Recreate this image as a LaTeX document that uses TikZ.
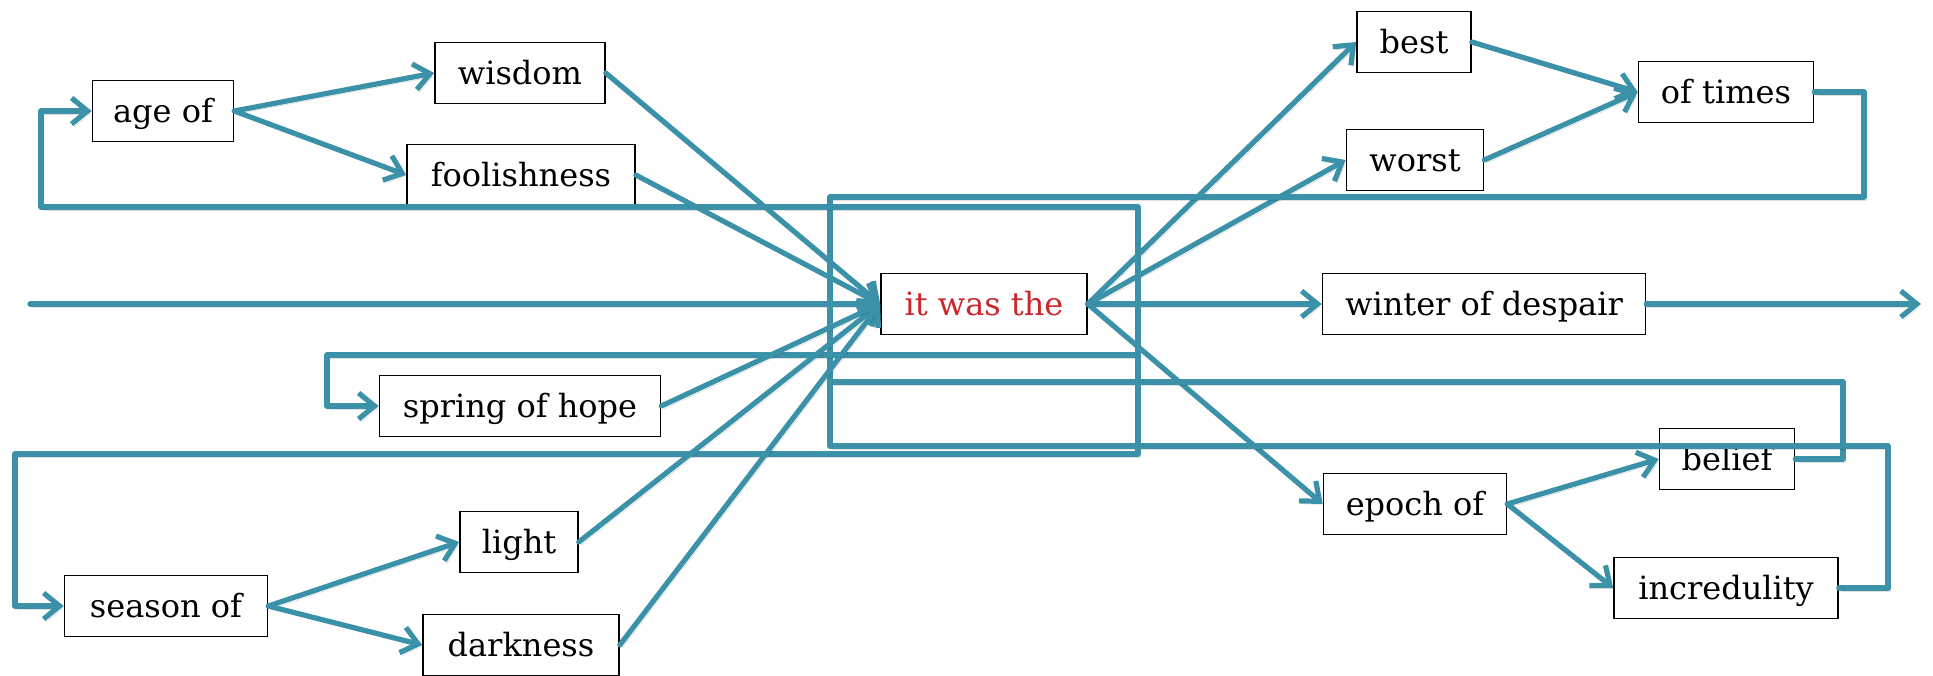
\documentclass[tikz,border=0pt]{standalone}
\usepackage{fontspec}
\setmainfont{DejaVu Serif}
\usetikzlibrary{arrows.meta}
\definecolor{flow}{RGB}{58,145,168}
\definecolor{wordred}{RGB}{200,40,45}
\begin{document}
\begin{tikzpicture}[x=0.5pt,y=-0.5pt,
  word/.style={draw=black, line width=0.8pt, fill=white, inner sep=0pt,
    minimum height=30.5pt, text height=13pt, text depth=2pt,
    font=\fontsize{16}{18}\selectfont},
  conn/.style={draw=flow, line width=2.6pt, line cap=round, line join=round,
    preaction={draw=black, opacity=0.12,
      transform canvas={shift={(1.2pt,-1.5pt)}}}},
  arr/.style={conn, -{Straight Barb[length=8pt,width=13pt]}}]
\useasboundingbox (0,0) rectangle (1933,675);

% word boxes
\node[word, minimum width=70.5pt]  (ageof)   at (163,111) {age of};
\node[word, minimum width=85pt]    (wisdom)  at (520,73)  {wisdom};
\node[word, minimum width=114pt]   (fool)    at (521,175) {foolishness};
\node[word, minimum width=57pt]    (best)    at (1414,42) {best};
\node[word, minimum width=68.5pt]  (worst)   at (1415,160) {worst};
\node[word, minimum width=87.5pt]  (oftimes) at (1726,92) {of times};
\node[word, minimum width=103pt, text=wordred] (itwas) at (984,304) {it was the};
\node[word, minimum width=161.5pt] (winter)  at (1484,304) {winter of despair};
\node[word, minimum width=140.5pt] (spring)  at (520,406) {spring of hope};
\node[word, minimum width=67.5pt]  (belief)  at (1727,459) {belief};
\node[word, minimum width=91.5pt]  (epoch)   at (1415,504) {epoch of};
\node[word, minimum width=112pt]   (incred)  at (1726,588) {incredulity};
\node[word, minimum width=101.5pt] (season)  at (166,606) {season of};
\node[word, minimum width=59pt]    (light)   at (519,542) {light};
\node[word, minimum width=98pt]    (dark)    at (521,645) {darkness};

% ends and corners of the routing lines
\coordinate (start)  at (30,304);
\coordinate (finish) at (1921,304);
\coordinate (jL) at (830,304);
\coordinate (jR) at (1138,304);
\coordinate (tR) at (1864,197);
\coordinate (bR) at (1843,382);
\coordinate (iR) at (1888,446);
\coordinate (aL) at (41,207);
\coordinate (sL) at (327,355);
\coordinate (seL) at (15,454);

% main line
\draw[arr] (start) -- (itwas.west);
\draw[arr] (itwas.east) -- (winter.west);
\draw[arr] (winter.east) -- (finish);

% branches out of "it was the"
\draw[arr] (itwas.east) -- (best.west);
\draw[arr] (itwas.east) -- (worst.west);
\draw[arr] (itwas.east) -- (epoch.west);
\draw[arr] (best.east) -- (oftimes.west);
\draw[arr] (worst.east) -- (oftimes.west);
\draw[arr] (epoch.east) -- (belief.west);
\draw[arr] (epoch.east) -- (incred.west);

% loops back into "it was the"
\draw[conn] (oftimes.east) -| (tR) -| (jL);
\draw[conn] (belief.east) -| (bR) -| (jL);
\draw[conn] (incred.east) -| (iR) -| (jL);

% loops from "it was the" to the left-hand starts
\draw[arr] (jR) |- (aL) |- (ageof.west);
\draw[arr] (jR) |- (sL) |- (spring.west);
\draw[arr] (jR) |- (seL) |- (season.west);

% left-hand branches
\draw[arr] (ageof.east) -- (wisdom.west);
\draw[arr] (ageof.east) -- (fool.west);
\draw[arr] (season.east) -- (light.west);
\draw[arr] (season.east) -- (dark.west);

% words leading back into "it was the"
\draw[arr] (wisdom.east) -- (itwas.west);
\draw[arr] (fool.east) -- (itwas.west);
\draw[arr] (spring.east) -- (itwas.west);
\draw[arr] (light.east) -- (itwas.west);
\draw[arr] (dark.east) -- (itwas.west);
\end{tikzpicture}
\end{document}
